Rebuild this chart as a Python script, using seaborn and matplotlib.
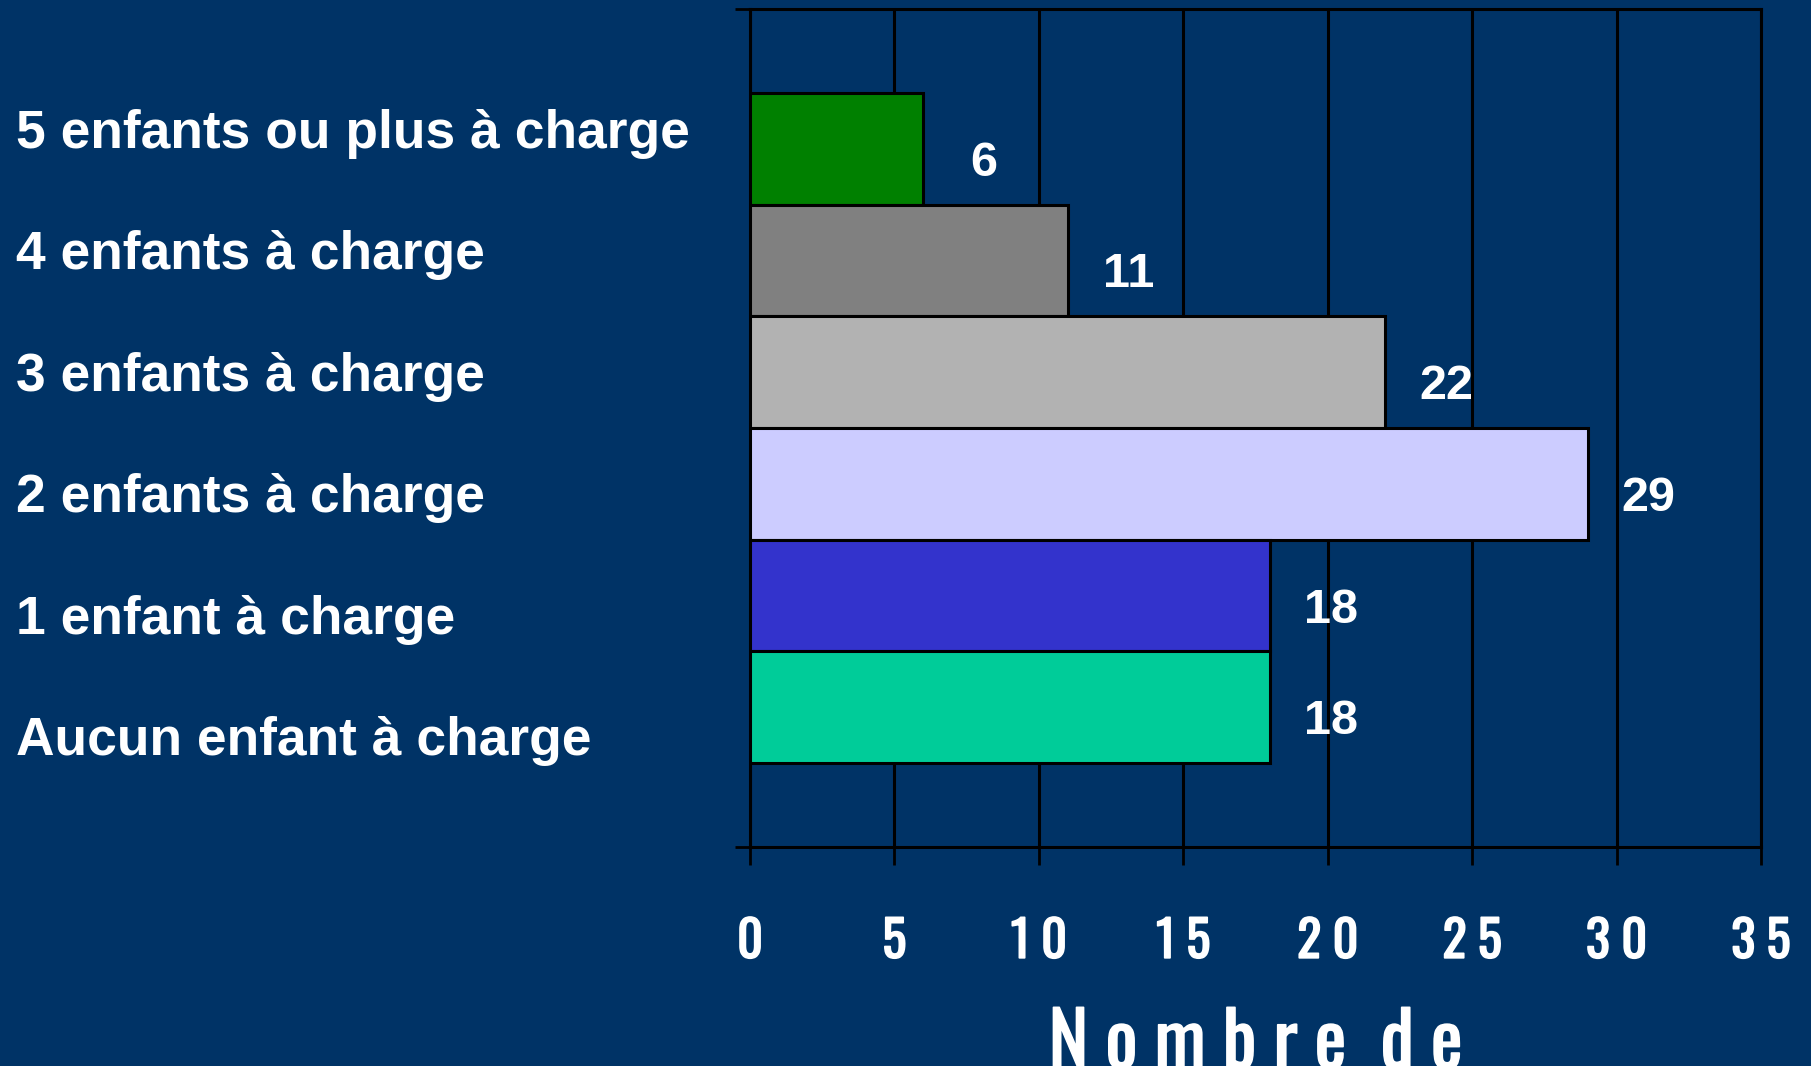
import matplotlib
matplotlib.use("Agg")
import matplotlib.pyplot as plt
from matplotlib import font_manager
import matplotlib.patheffects as pe
import seaborn as sns
import pandas as pd

categories = ["5 enfants ou plus à charge", "4 enfants à charge", "3 enfants à charge",
              "2 enfants à charge", "1 enfant à charge", "Aucun enfant à charge"]
values = [6, 11, 22, 29, 18, 18]
bar_colors = ["#008000", "#808080", "#B2B2B2", "#CCCCFF", "#3333CC", "#00CC99"]
x_ticks = [0, 5, 10, 15, 20, 25, 30, 35]
x_tick_labels = ["0", "5", "1 0", "1 5", "2 0", "2 5", "3 0", "3 5"]
x_label = "N o m b r e  d e"

BG = "#003366"

names = {f.name for f in font_manager.fontManager.ttflist}
narrow = "DejaVu Sans"
for cand in ["Oswald", "Liberation Sans Narrow", "Arial Narrow", "Archivo Narrow",
             "Roboto Condensed", "PT Sans Narrow", "IBM Plex Sans Condensed"]:
    if cand in names:
        narrow = cand
        break
regular = "Liberation Sans" if "Liberation Sans" in names else "DejaVu Sans"

sns.set_theme(style="white")
plt.rcParams["font.family"] = [regular, "DejaVu Sans"]

df = pd.DataFrame({"cat": categories, "val": values})

fig = plt.figure(figsize=(18.11, 10.66), dpi=100, facecolor=BG)
ax = fig.add_axes([750 / 1811, 1 - 847 / 1066, (1761 - 750) / 1811, (847 - 9) / 1066])
ax.set_facecolor(BG)

sns.barplot(data=df, y="cat", x="val", hue="cat", palette=bar_colors, order=categories,
            hue_order=categories, dodge=False, width=1.0, orient="h", legend=False,
            saturation=1, edgecolor="black", linewidth=2.2, ax=ax, zorder=3)

bold_fx = [pe.withStroke(linewidth=1.2, foreground="white")]

ax.set_xlim(0, 35)
ax.set_ylim(6.25, -1.25)
ax.set_xticks(x_ticks)
ax.set_xticklabels(x_tick_labels, fontfamily=[narrow, "DejaVu Sans"], fontweight="bold",
                   fontsize=36, color="white", path_effects=bold_fx)
ax.set_yticks([-1.25, 6.25])
ax.set_yticklabels([])
ax.tick_params(axis="x", direction="out", length=13, width=2, color="black", pad=38, bottom=True)
ax.tick_params(axis="y", direction="out", length=11, width=2, color="black", left=True)
ax.set_ylabel("")
ax.set_xlabel(x_label, fontfamily=[narrow, "DejaVu Sans"], fontweight="bold", fontsize=54,
              color="white", labelpad=29, path_effects=bold_fx)

ax.grid(axis="x", color="black", linewidth=2.2, zorder=0)
ax.grid(axis="y", visible=False)
ax.set_axisbelow(True)
for s in ax.spines.values():
    s.set_visible(True)
    s.set_color("black")
    s.set_linewidth(2.2)

for i, v in enumerate(values):
    ax.text(v + 2.1, i + 0.13, str(v), ha="center", va="center", color="white",
            fontsize=35, fontweight="bold", zorder=4)

label_top = 134
label_step = 121.5
for i, c in enumerate(categories):
    fig.text(16 / 1811, 1 - (label_top + i * label_step) / 1066, c, ha="left", va="center",
             color="white", fontsize=38.4, fontweight="bold", fontfamily=[regular, "DejaVu Sans"])

fig.savefig("out.png", dpi=100, facecolor=BG)
